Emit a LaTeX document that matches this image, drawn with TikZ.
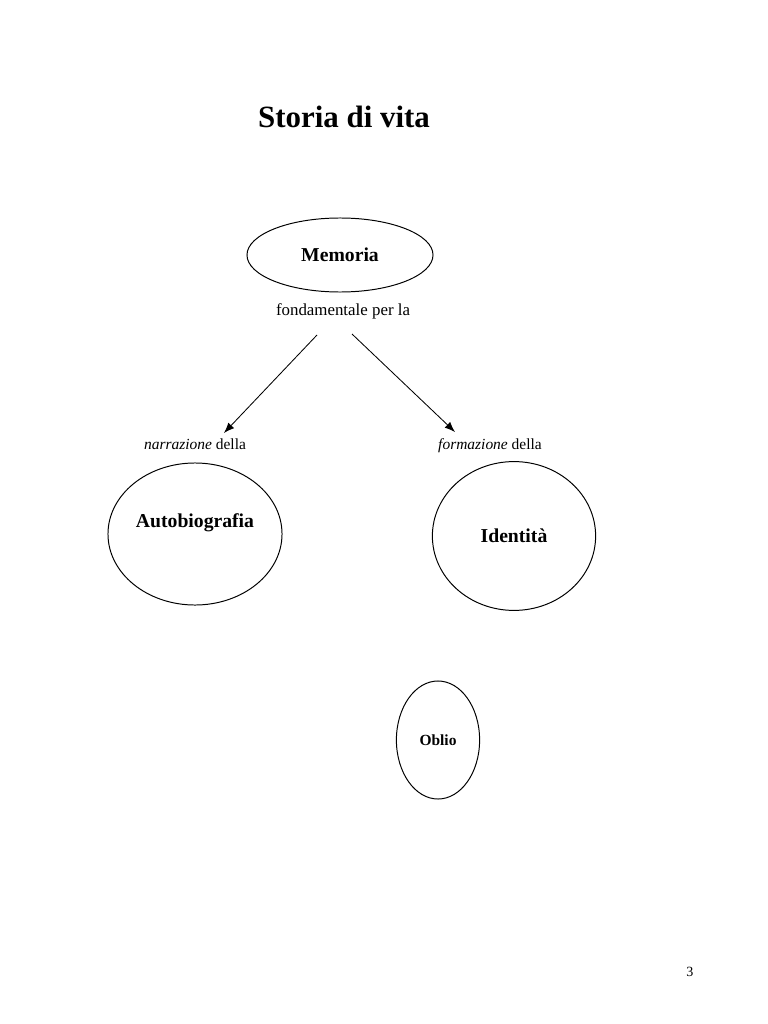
\documentclass[tikz,border=0pt]{standalone}
\usepackage{fontspec}
\setmainfont{Liberation Serif}
\usetikzlibrary{shapes.geometric,arrows.meta}

\begin{document}
\begin{tikzpicture}[
    x=0.025cm, y=-0.025cm,
    oval/.style={ellipse, draw=black, line width=0.7pt, inner sep=0pt,
                 font=\bfseries\fontsize{14}{16}\selectfont},
    note/.style={font=\fontsize{11}{13}\selectfont, inner sep=1pt, anchor=base},
    link/.style={-{Latex[length=2.6mm,width=2mm]}, line width=0.6pt}
]
  \useasboundingbox (0,0) rectangle (768,1024);

  % Title
  \node[font=\bfseries\fontsize{22}{26}\selectfont, anchor=base] (title) at (344,128) {Storia di vita};

  % Top concept
  \node[oval, minimum width=4.65cm, minimum height=1.85cm] (mem) at (340,255) {Memoria};
  \node[note, font=\fontsize{12}{14}\selectfont] (fond) at (343,315) {fondamentale per la};

  % Branch labels
  \node[note] (narr) at (195,449) {\textit{narrazione} della};
  \node[note] (form) at (490,449) {\textit{formazione} della};

  % Lower concepts
  \node[oval, minimum width=4.35cm, minimum height=3.55cm,
        label={[yshift=0.28cm, font=\bfseries\fontsize{14}{16}\selectfont]center:Autobiografia}]
        (auto) at (195,534) {};
  \node[oval, minimum width=4.08cm, minimum height=3.72cm] (iden) at (514,536) {Identità};
  \node[oval, minimum width=2.08cm, minimum height=2.95cm,
        font=\bfseries\fontsize{11}{13}\selectfont] (oblio) at (438,740) {Oblio};

  % Arrows
  \coordinate (l0) at (317,335);
  \coordinate (l1) at (224,433);
  \coordinate (r0) at (352,334);
  \coordinate (r1) at (455,432);
  \draw[link] (l0) -- (l1);
  \draw[link] (r0) -- (r1);

  % Page number
  \node[font=\fontsize{10}{12}\selectfont] (page) at (690,972) {3};

\end{tikzpicture}
\end{document}
